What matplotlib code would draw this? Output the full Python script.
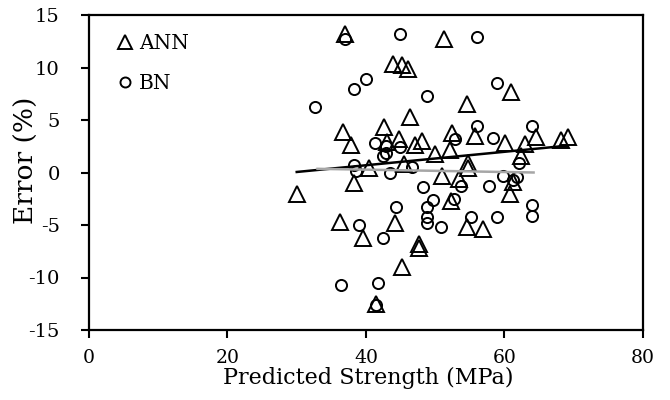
import matplotlib
matplotlib.use("Agg")
import matplotlib.pyplot as plt

plt.rcParams['font.family'] = ['DejaVu Serif']
plt.rcParams['axes.unicode_minus'] = False

# ANN errors (predicted strength, error %)
ann_x = [30.1, 37.0, 36.7, 37.9, 38.2, 36.2, 39.6, 43.9, 45.2, 46.1,
         51.2, 46.4, 42.6, 43.1, 44.8, 47.1, 48.1, 49.9, 40.4, 45.5,
         51.0, 44.2, 47.6, 47.6, 45.2, 41.5, 61.0, 54.6, 52.4, 55.8,
         60.1, 52.1, 54.8, 54.8, 62.4, 53.4, 60.8, 52.3, 54.6, 56.9,
         64.5, 63.0, 68.2, 69.2, 61.3]
ann_y = [-2.0, 13.2, 3.9, 2.6, -1.0, -4.7, -6.2, 10.3, 10.2, 9.9,
         12.7, 5.3, 4.3, 2.9, 3.2, 2.6, 3.0, 1.8, 0.4, 0.8,
         -0.3, -4.8, -6.8, -7.2, -9.0, -12.5, 7.7, 6.5, 3.8, 3.5,
         2.8, 2.1, 0.9, 0.4, 1.6, -0.6, -2.0, -2.7, -5.2, -5.4,
         3.4, 2.7, 3.1, 3.4, -0.9]

# BN errors
bn_x = [36.9, 38.2, 40.0, 32.7, 38.3, 38.6, 39.0, 36.4, 44.9, 48.8,
        41.3, 42.9, 42.9, 44.9, 42.5, 46.6, 43.5, 48.3, 49.7, 48.8,
        48.8, 48.8, 50.9, 44.3, 42.4, 41.7, 41.5, 56.0, 58.9, 56.0,
        52.9, 58.4, 62.1, 53.7, 57.7, 59.8, 61.3, 61.8, 52.7, 55.1,
        58.9, 63.9, 63.9, 63.9]
bn_y = [12.7, 8.0, 8.9, 6.2, 0.7, 0.15, -5.0, -10.7, 13.2, 7.3,
        2.8, 2.5, 1.9, 2.4, 1.6, 0.55, 0.0, -1.4, -2.6, -3.3,
        -4.2, -4.8, -5.2, -3.3, -6.2, -10.5, -12.6, 12.9, 8.5, 4.4,
        3.2, 3.3, 0.9, -1.3, -1.3, -0.3, -0.7, -0.4, -2.5, -4.2,
        -4.2, 4.4, -3.1, -4.1]

# linear trend lines
ann_trend_x = [30.0, 69.0]
ann_trend_y = [0.05, 2.55]
bn_trend_x = [33.0, 64.2]
bn_trend_y = [0.35, 0.0]

fig = plt.figure(figsize=(6.7, 4.0), dpi=100)
ax = fig.add_axes([0.1328, 0.175, 0.8269, 0.7875])

ax.plot(ann_x, ann_y, linestyle='none', marker='^', markersize=11,
        markerfacecolor='none', markeredgecolor='black', markeredgewidth=1.4,
        label='ANN')
ax.plot(bn_x, bn_y, linestyle='none', marker='o', markersize=8,
        markerfacecolor='none', markeredgecolor='black', markeredgewidth=1.4,
        label='BN')
ax.plot(ann_trend_x, ann_trend_y, color='black', linewidth=1.8)
ax.plot(bn_trend_x, bn_trend_y, color='#a6a6a6', linewidth=1.8)

ax.set_xlim(0, 80)
ax.set_ylim(-15, 15)
ax.set_xticks([0, 20, 40, 60, 80])
ax.set_yticks([-15, -10, -5, 0, 5, 10, 15])
ax.tick_params(direction='out', length=6, width=1.5)
ax.tick_params(axis='x', labelsize=13.5, pad=8)
ax.tick_params(axis='y', labelsize=14, pad=15)
for s in ax.spines.values():
    s.set_linewidth(1.6)

ax.set_xlabel('Predicted Strength (MPa)', fontsize=16, va='top')
ax.set_ylabel('Error (%)', fontsize=19, va='bottom')
ax.xaxis.set_label_coords(0.504, -0.118)
ax.yaxis.set_label_coords(-0.09, 0.54)

ax.legend(loc='upper left', bbox_to_anchor=(0.04, 0.965), frameon=False,
          fontsize=14.5, markerscale=0.9, handlelength=0.6, handletextpad=0.4,
          labelspacing=1.05, borderaxespad=0)

fig.savefig('out.png', dpi=100)
